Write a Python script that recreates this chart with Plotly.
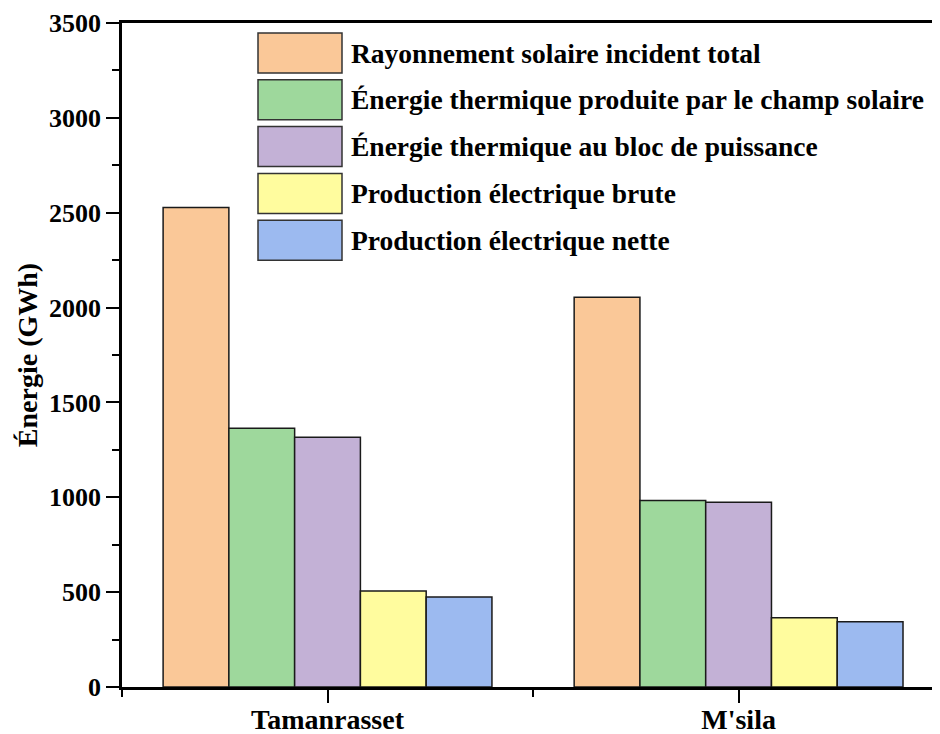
import plotly.graph_objects as go

# ---- data ----
categories = ["Tamanrasset", "M'sila"]
series_names = [
    "Rayonnement solaire incident total",
    "Énergie thermique produite par le champ solaire",
    "Énergie thermique au bloc de puissance",
    "Production électrique brute",
    "Production électrique nette",
]
rayonnement = [2528, 2055]
thermique_champ = [1364, 983]
thermique_bloc = [1317, 974]
elec_brute = [506, 365]
elec_nette = [474, 344]
series_values = [rayonnement, thermique_champ, thermique_bloc, elec_brute, elec_nette]
colors = ["#FAC898", "#9ED89C", "#C3B1D6", "#FFFC9E", "#9CBAF0"]
y_ticks = [0, 500, 1000, 1500, 2000, 2500, 3000, 3500]

FONT = "Liberation Serif"
OFF = 8  # page body margin
W, H = 940 - OFF, 734 - OFF
L, R, T, B = 122 - OFF, 0, 23 - OFF, 47
PW, PH = W - L - R, H - T - B

x_pos = list(range(len(categories)))

fig = go.Figure()
for name, vals, col in zip(series_names, series_values, colors):
    fig.add_trace(go.Bar(
        x=x_pos, y=vals, name=name,
        marker=dict(color=col, line=dict(color="#1a1a1a", width=1.5)),
        showlegend=False,
    ))

# custom legend (large swatches like the reference), positions in screen pixels
def px_x(p):
    return (p - OFF - L) / PW

def px_y(p):
    return (H - B - (p - OFF)) / PH

box_top0, step, box_h = 33, 46.8, 40
for i, (name, col) in enumerate(zip(series_names, colors)):
    top = box_top0 + i * step
    fig.add_shape(type="rect", xref="paper", yref="paper",
                  x0=px_x(258), x1=px_x(342), y0=px_y(top + box_h), y1=px_y(top),
                  fillcolor=col, line=dict(color="#333333", width=1.5), layer="above")
    fig.add_annotation(xref="paper", yref="paper", x=px_x(349), y=px_y(top + box_h / 2),
                       text="<b>%s</b>" % name, showarrow=False, xanchor="left", yanchor="middle",
                       font=dict(family=FONT, size=27.5, color="black"))

fig.update_layout(
    width=W, height=H,
    margin=dict(l=L, r=R, t=T, b=B, autoexpand=False),
    plot_bgcolor="white", paper_bgcolor="white",
    barmode="group", bargap=0.2, bargroupgap=0,
    font=dict(family=FONT, color="black"),
)
fig.update_xaxes(
    range=[-0.5, 1.49], tickvals=x_pos, ticktext=["<b>%s</b>" % c for c in categories],
    tickfont=dict(family=FONT, size=28, color="black"),
    ticklabelstandoff=-7,
    showline=True, linecolor="black", linewidth=2.5, mirror=True,
    ticks="outside", ticklen=13, tickwidth=2, tickcolor="black",
    minor=dict(tick0=0.5, dtick=1, ticks="outside", ticklen=7, tickwidth=2, tickcolor="black"),
    showgrid=False, zeroline=False, automargin=False,
)
fig.update_yaxes(
    range=[0, 3500], tickvals=y_ticks, ticktext=["<b>%d</b>" % v for v in y_ticks],
    tickfont=dict(family=FONT, size=26, color="black"),
    showline=True, linecolor="black", linewidth=2.5, mirror=False,
    ticks="outside", ticklen=13, tickwidth=2, tickcolor="black",
    minor=dict(dtick=250, ticks="outside", ticklen=7, tickwidth=2, tickcolor="black"),
    title=dict(text="<b>Énergie (GWh)</b>", font=dict(family=FONT, size=28, color="black"), standoff=4),
    showgrid=False, zeroline=False, automargin=False,
)
fig.write_html("out.html")
